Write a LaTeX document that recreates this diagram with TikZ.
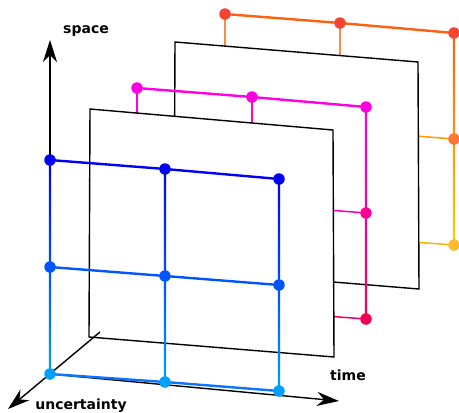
\documentclass[tikz,border=0pt]{standalone}
\usepackage{fontspec}
\setmainfont{DejaVu Sans}
\usetikzlibrary{arrows.meta,calc}
\definecolor{bTop}{RGB}{0,0,245}
\definecolor{bMid}{RGB}{0,85,255}
\definecolor{bBot}{RGB}{0,160,255}
\definecolor{bBotLine}{RGB}{10,115,255}
\definecolor{mTop}{RGB}{255,0,225}
\definecolor{mMid}{RGB}{255,0,150}
\definecolor{mBot}{RGB}{240,0,80}
\definecolor{mMidStub}{RGB}{255,0,165}
\definecolor{mBotStub}{RGB}{235,0,115}
\definecolor{oDot}{RGB}{245,68,50}
\definecolor{oTop}{RGB}{255,95,15}
\definecolor{oStub}{RGB}{255,140,60}
\definecolor{oMid}{RGB}{255,120,50}
\definecolor{oBot}{RGB}{255,185,50}
\definecolor{oRight}{RGB}{255,130,0}
\definecolor{oYellow}{RGB}{255,205,0}
\definecolor{oMidStub}{RGB}{255,155,0}
\definecolor{oBotStub}{RGB}{255,178,0}
\begin{document}
\begin{tikzpicture}[x=1pt,y=-1pt,
  dot/.style={circle,inner sep=0pt,minimum size=11.5pt,fill=#1},
  gridline/.style={line width=2.4pt,draw=#1},
  stub/.style={line width=1.5pt,draw=#1},
  plane/.style={draw=black,fill=white,line width=1.4pt,line join=miter},
  axis/.style={draw=black,line width=1.4pt,-{Stealth[length=22pt,width=14pt,inset=7pt]}},
  lbl/.style={font=\fontsize{14}{16}\selectfont\bfseries,inner sep=0pt}]
\useasboundingbox (0,0) rectangle (459,413);
% front grid coordinates
\coordinate (B11) at (50,160);  \coordinate (B12) at (165,169); \coordinate (B13) at (279,179);
\coordinate (B21) at (50,267);  \coordinate (B22) at (165,276); \coordinate (B23) at (279,285);
\coordinate (B31) at (50,374);  \coordinate (B32) at (165,382); \coordinate (B33) at (279,391);
% back grids
\foreach \r in {1,2,3}{\foreach \c in {1,2,3}{
  \coordinate (M\r\c) at ($(B\r\c)+(87,-72)$);
  \coordinate (O\r\c) at ($(B\r\c)+(175,-146)$);}}
% planes
\coordinate (P1a) at (90,109);  \coordinate (P1b) at (333,130);
\coordinate (P1c) at (334,357); \coordinate (P1d) at (89,337);
\coordinate (P2a) at (175,42);  \coordinate (P2b) at (418,62);
\coordinate (P2c) at (419,289); \coordinate (P2d) at (174,269);
% ---- orange grid (back)
\draw[stub=oStub] (O11) -- (O31);
\draw[stub=oStub] (O12) -- (O32);
\draw[stub=oMidStub] (O21) -- (O23);
\draw[stub=oBotStub] (O31) -- (O33);
\shade[top color=oTop, middle color=oRight, bottom color=oYellow] ($(O13)+(-1.2,0)$) rectangle ($(O33)+(1.2,0)$);
\draw[gridline=oTop,line cap=round] (O11) -- (O12) -- (O13);
\node[dot=oDot] (o11) at (O11) {};
\node[dot=oDot] (o12) at (O12) {};
\node[dot=oDot] (o13) at (O13) {};
\node[dot=oMid] (o23) at (O23) {};
\node[dot=oBot] (o33) at (O33) {};
% ---- plane 2
\draw[plane] (P2a) -- (P2b) -- (P2c) -- (P2d) -- cycle;
% ---- magenta grid
\draw[stub=mTop] (M11) -- (M31);
\draw[stub=mTop] (M12) -- (M32);
\draw[stub=mMidStub] (M21) -- (M23);
\draw[stub=mBotStub] (M31) -- (M33);
\shade[top color=mTop, middle color=mMid, bottom color=mBot] ($(M13)+(-1.2,0)$) rectangle ($(M33)+(1.2,0)$);
\draw[gridline=mTop,line cap=round] (M11) -- (M12) -- (M13);
\node[dot=mTop] (m11) at (M11) {};
\node[dot=mTop] (m12) at (M12) {};
\node[dot=mTop] (m13) at (M13) {};
\node[dot=mMid] (m23) at (M23) {};
\node[dot=mBot] (m33) at (M33) {};
% ---- plane 1
\draw[plane] (P1a) -- (P1b) -- (P1c) -- (P1d) -- cycle;
% ---- axes
\coordinate (spaceEnd) at (50,40);
\coordinate (timeEnd) at (339,401);
\coordinate (uStart) at (100,332);
\coordinate (uEnd) at (8,409);
\draw[axis] (B31) -- (spaceEnd);
\draw[axis] (B31) -- (timeEnd);
\draw[axis] (uStart) -- (uEnd);
% ---- blue grid
\foreach \c in {1,2,3}{
  \shade[top color=bTop, middle color=bMid, bottom color=bBot] ($(B1\c)+(-1.2,0)$) rectangle ($(B3\c)+(1.2,0)$);}
\draw[gridline=bTop] (B11) -- (B12) -- (B13);
\draw[gridline=bMid] (B21) -- (B22) -- (B23);
\draw[gridline=bBotLine] (B31) -- (B32) -- (B33);
\foreach \c in {1,2,3}{
  \node[dot=bTop] (b1\c) at (B1\c) {};
  \node[dot=bMid] (b2\c) at (B2\c) {};
  \node[dot=bBot] (b3\c) at (B3\c) {};}
% ---- labels
\node[lbl] (space) at (86,31) {space};
\node[lbl] (time) at (348,375) {time};
\node[lbl] (unc) at (81,406) {uncertainty};
\end{tikzpicture}
\end{document}
